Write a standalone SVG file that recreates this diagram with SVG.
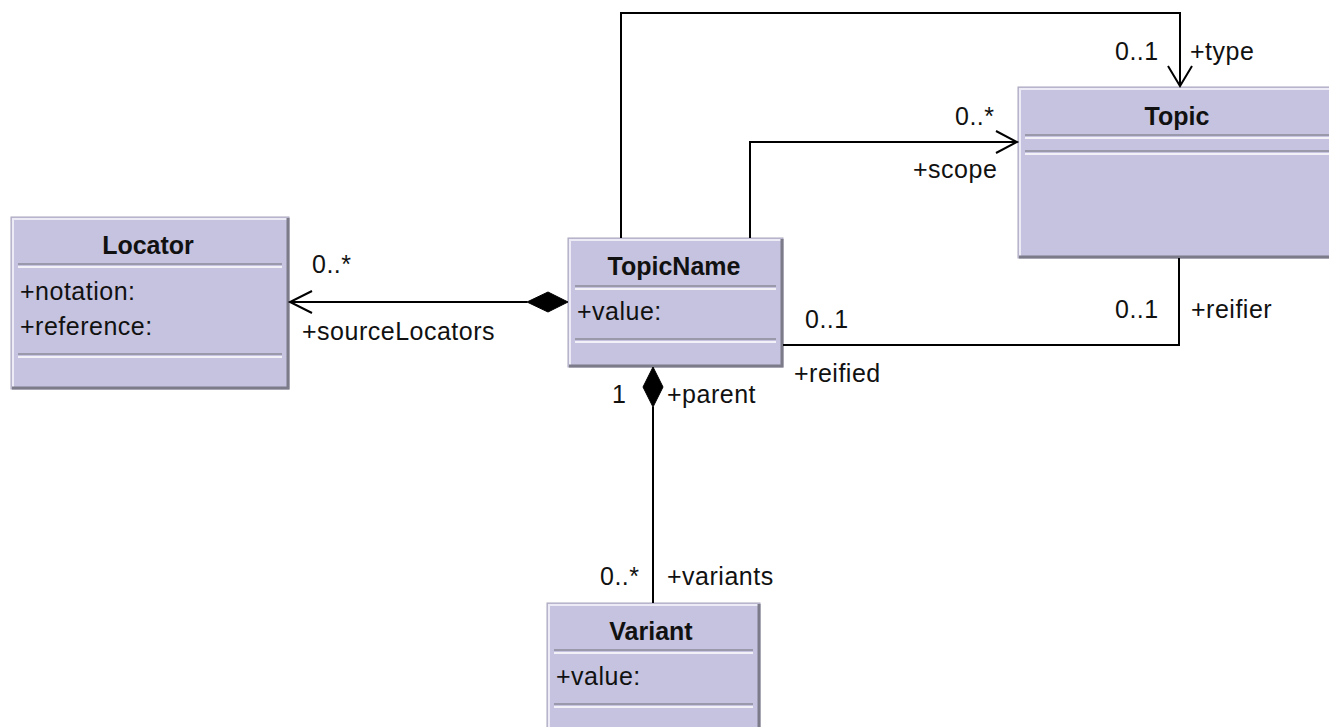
<svg xmlns="http://www.w3.org/2000/svg" width="1329" height="727" viewBox="0 0 1329 727">
<style>
  text { font-family: "Liberation Sans", Arial, sans-serif; font-size: 25px; fill: #111; letter-spacing: 0.5px; }
  .title { font-weight: bold; text-anchor: middle; letter-spacing: 0; }
  .box { fill: #C5C3DF; stroke: #A9A8BC; stroke-width: 1; }
  .hi { stroke: #ECEBF6; stroke-width: 2; fill: none; }
  .sh { stroke: #7C7B8A; stroke-width: 3; fill: none; }
  .dv { stroke: #9A99AC; stroke-width: 2; }
  .dw { stroke: #F2F1F8; stroke-width: 2; }
  .conn { stroke: #000; stroke-width: 2; fill: none; }
  .dia { fill: #000; stroke: #000; stroke-width: 1; }
</style>
<rect width="1329" height="727" fill="#fff"/>

<g id="Locator">
  <rect class="box" x="11" y="217" width="278" height="172"/>
  <polyline class="hi" points="13,387 13,219 287,219"/>
  <polyline class="sh" points="288,218 288,388 12,388"/>
  <text class="title" x="148" y="254">Locator</text>
  <line class="dv" x1="18" y1="264" x2="282" y2="264"/>
  <line class="dw" x1="18" y1="267" x2="282" y2="267"/>
  <text x="20" y="300">+notation:</text>
  <text x="20" y="335">+reference:</text>
  <line class="dv" x1="18" y1="354" x2="282" y2="354"/>
  <line class="dw" x1="18" y1="357" x2="282" y2="357"/>
</g>

<g id="TopicName">
  <rect class="box" x="568" y="238" width="215" height="129"/>
  <polyline class="hi" points="570,365 570,240 781,240"/>
  <polyline class="sh" points="782,239 782,366 569,366"/>
  <text class="title" x="674" y="275">TopicName</text>
  <line class="dv" x1="575" y1="286" x2="776" y2="286"/>
  <line class="dw" x1="575" y1="289" x2="776" y2="289"/>
  <text x="577" y="320">+value:</text>
  <line class="dv" x1="575" y1="339" x2="776" y2="339"/>
  <line class="dw" x1="575" y1="342" x2="776" y2="342"/>
</g>

<g id="Topic">
  <rect class="box" x="1018" y="87" width="320" height="171"/>
  <polyline class="hi" points="1020,256 1020,89 1336,89"/>
  <polyline class="sh" points="1019,257 1336,257"/>
  <text class="title" x="1177" y="125">Topic</text>
  <line class="dv" x1="1025" y1="135" x2="1336" y2="135"/>
  <line class="dw" x1="1025" y1="138" x2="1336" y2="138"/>
  <line class="dv" x1="1025" y1="151" x2="1336" y2="151"/>
  <line class="dw" x1="1025" y1="154" x2="1336" y2="154"/>
</g>

<g id="Variant">
  <rect class="box" x="547" y="603" width="213" height="140"/>
  <polyline class="hi" points="549,740 549,605 758,605"/>
  <polyline class="sh" points="759,604 759,740"/>
  <text class="title" x="651" y="640">Variant</text>
  <line class="dv" x1="554" y1="650" x2="753" y2="650"/>
  <line class="dw" x1="554" y1="653" x2="753" y2="653"/>
  <text x="556" y="685">+value:</text>
  <line class="dv" x1="554" y1="704" x2="753" y2="704"/>
  <line class="dw" x1="554" y1="707" x2="753" y2="707"/>
</g>

<g id="connectors">
  <!-- sourceLocators -->
  <line class="conn" x1="527" y1="302" x2="290" y2="302"/>
  <polyline class="conn" points="312,291 290,302 312,313"/>
  <polygon class="dia" points="568,302 548,292 527,302 548,312"/>
  <!-- type -->
  <polyline class="conn" points="621,238 621,13 1180,13 1180,86"/>
  <polyline class="conn" points="1168,66 1180,86 1192,66"/>
  <!-- scope -->
  <polyline class="conn" points="750,238 750,142 1017,142"/>
  <polyline class="conn" points="996,131 1017,142 996,153"/>
  <!-- reifier / reified -->
  <polyline class="conn" points="783,345 1179,345 1179,258"/>
  <!-- parent / variants -->
  <line class="conn" x1="653" y1="407" x2="653" y2="603"/>
  <polygon class="dia" points="653,367 663,387 653,407 643,387"/>
</g>

<g id="labels">
  <text x="1115" y="60">0..1</text>
  <text x="1190" y="60">+type</text>
  <text x="955" y="125">0..*</text>
  <text x="913" y="178">+scope</text>
  <text x="312" y="273">0..*</text>
  <text x="302" y="340">+sourceLocators</text>
  <text x="805" y="328">0..1</text>
  <text x="794" y="382">+reified</text>
  <text x="1115" y="318">0..1</text>
  <text x="1191" y="318">+reifier</text>
  <text x="612" y="403">1</text>
  <text x="667" y="403">+parent</text>
  <text x="600" y="585">0..*</text>
  <text x="667" y="585">+variants</text>
</g>
</svg>
